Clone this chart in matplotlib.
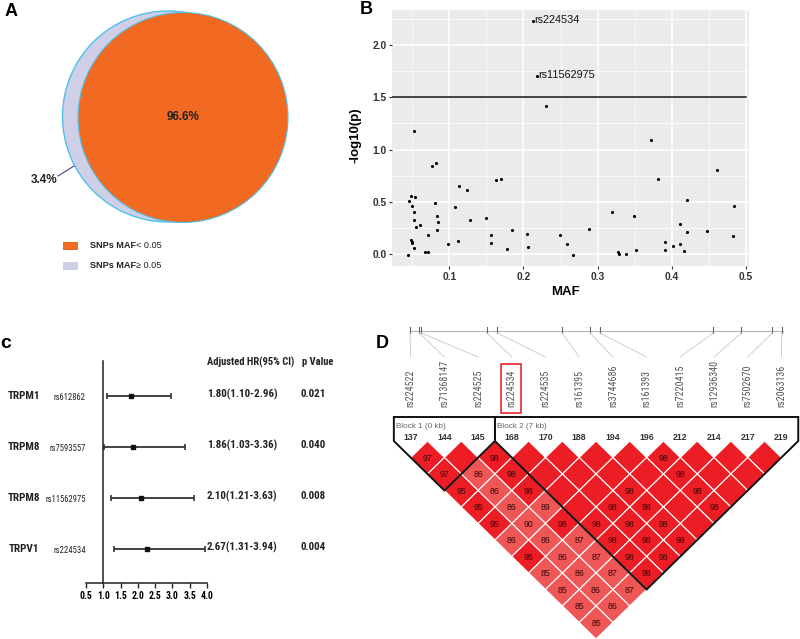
import os
import matplotlib
matplotlib.use('Agg')
import matplotlib.pyplot as plt
from matplotlib import font_manager
from matplotlib.font_manager import FontProperties
from matplotlib.patches import Circle, Rectangle
from matplotlib.collections import PolyCollection
import matplotlib.transforms as mtransforms

plt.rcParams['font.family'] = ['Liberation Sans', 'DejaVu Sans']

# ---------------- panel A : share of SNPs by MAF
maf_groups = ['< 0.05', '\u2265 0.05']
group_share = [96.6, 3.4]
group_colors = ['#f26a21', '#cfd0e8']

# ---------------- panel B : -log10(p) vs MAF
maf = [0.2133, 0.2187, 0.2303, 0.0528, 0.0766, 0.0816, 0.3724, 0.3809, 0.4610, 0.1630,
       0.1700, 0.1126, 0.1234, 0.0488, 0.0537, 0.0461, 0.0492, 0.0802, 0.1076, 0.0519,
       0.3193, 0.4204, 0.4834, 0.0834, 0.3485, 0.1499, 0.0528, 0.1283, 0.0852, 0.4115,
       0.0609, 0.0551, 0.2883, 0.0838, 0.1840, 0.4474, 0.4204, 0.0708, 0.1562, 0.2047,
       0.2497, 0.4829, 0.1117, 0.0488, 0.0492, 0.0497, 0.1562, 0.3908, 0.0987, 0.2587,
       0.4011, 0.4115, 0.0519, 0.2065, 0.1782, 0.3521, 0.3912, 0.4169, 0.0672, 0.0712,
       0.3279, 0.3283, 0.3378, 0.2672, 0.0447]
logp = [2.229, 1.700, 1.417, 1.178, 0.844, 0.876, 1.092, 0.723, 0.803, 0.707,
        0.723, 0.653, 0.611, 0.557, 0.548, 0.513, 0.465, 0.494, 0.455, 0.404,
        0.401, 0.516, 0.465, 0.369, 0.369, 0.347, 0.331, 0.325, 0.306, 0.287,
        0.283, 0.264, 0.239, 0.229, 0.229, 0.220, 0.213, 0.188, 0.188, 0.191,
        0.182, 0.178, 0.127, 0.137, 0.121, 0.111, 0.111, 0.115, 0.096, 0.096,
        0.083, 0.102, 0.061, 0.067, 0.051, 0.041, 0.041, 0.035, 0.019, 0.022,
        0.019, 0.006, 0.000, -0.003, -0.003]
hit_names = ['rs224534', 'rs11562975']   # first two points
threshold = 1.5

# ---------------- panel C : forest plot
genes = ['TRPM1', 'TRPM8', 'TRPM8', 'TRPV1']
snps = ['rs612862', 'rs7593557', 'rs11562975', 'rs224534']
hr_point = [1.80, 1.86, 2.10, 2.27]
ci_low = [1.10, 1.03, 1.21, 1.31]
ci_high = [2.96, 3.36, 3.63, 3.94]
hr_text = ['1.80(1.10-2.96)', '1.86(1.03-3.36)', '2.10(1.21-3.63)', '2.67(1.31-3.94)']
p_text = ['0.021', '0.040', '0.008', '0.004']

# ---------------- panel D : LD plot
ld_snps = ['rs224522', 'rs71368147', 'rs224525', 'rs224534', 'rs224535', 'rs161395',
           'rs3744686', 'rs161393', 'rs7220415', 'rs12936340', 'rs7502670', 'rs2063136']
ld_ids = [137, 144, 145, 168, 170, 188, 194, 196, 212, 214, 217, 219]
map_frac = [0.0, 0.025, 0.030, 0.206, 0.234, 0.408, 0.483, 0.509, 0.813, 0.888, 0.971, 0.997]
blocks = [(0, 2, 'Block 1 (0 kb)'), (3, 11, 'Block 2 (7 kb)')]
highlight = 'rs224534'
# D' (x100) by marker distance 1..11, 100 = not printed
ld_dprime = [
    [97, 100, 98, 100, 100, 100, 100, 98, 100, 100, 100],
    [97, 86, 98, 100, 100, 100, 100, 98, 100, 100],
    [95, 86, 98, 100, 100, 98, 100, 98, 100],
    [95, 86, 89, 100, 98, 98, 100, 98],
    [95, 90, 98, 98, 98, 98, 100],
    [86, 86, 87, 98, 98, 98],
    [95, 86, 87, 98, 98],
    [85, 86, 87, 98],
    [85, 86, 87],
    [85, 86],
    [85],
]

W, H = 800, 639
fig = plt.figure(figsize=(W / 100, H / 100), dpi=100)


# a narrow face for the forest plot / haploview text, if one is installed
def _find_face(cands):
    files = {}
    for f in font_manager.fontManager.ttflist:
        base = os.path.splitext(os.path.basename(f.fname))[0].lower()
        base = base.replace('-', '').replace('_', '').replace(' ', '')
        files.setdefault(base, f.fname)
    for c in cands:
        if c in files:
            return files[c]
    return None


_narrow_reg = _find_face(['liberationsansnarrowregular', 'arialnarrow', 'robotocondensedregular',
                          'notosanscondensedregular', 'notosanscondensed',
                          'opensanscondensedregular', 'dejavusanscondensed'])
_narrow_bold = _find_face(['liberationsansnarrowbold', 'arialnarrowbold', 'robotocondensedbold',
                           'notosanscondensedbold', 'opensanscondensedbold',
                           'dejavusanscondensedbold'])


def narrow(size, bold=False):
    path = _narrow_bold if bold else _narrow_reg
    if path:
        return dict(fontproperties=FontProperties(fname=path, size=size))
    return dict(family='Liberation Sans', size=size * 0.88,
                weight='bold' if bold else 'normal')


def px_axes(x0, y0, x1, y1):
    return fig.add_axes([x0 / W, 1 - y1 / H, (x1 - x0) / W, (y1 - y0) / H])


def ftext(x, y, s, **kw):
    fig.text(x / W, 1 - y / H, s, **kw)


# ================= A
axA = px_axes(0, 0, 300, 290)
axA.set_xlim(0, 300)
axA.set_ylim(290, 0)
axA.axis('off')
axA.add_patch(Circle((168, 116.5), 105.5, fc=group_colors[1], ec='#4fc1e9', lw=1.0))
axA.add_patch(Circle((183, 117.5), 105, fc=group_colors[0], ec='#4fc1e9', lw=0.8))
axA.text(183, 117, '%.1f%%' % group_share[0], ha='center', va='center',
         fontsize=8.5, fontweight='bold', color='#222')
axA.text(44, 180, '%.1f%%' % group_share[1], ha='center', va='center',
         fontsize=8.5, fontweight='bold', color='#222')
axA.plot([58, 74], [176, 166], color='#4b3f8c', lw=0.8)
for k, (cond, col) in enumerate(zip(maf_groups, group_colors)):
    yy = 246 + 20 * k
    axA.add_patch(Rectangle((63, yy - 4), 15, 8, fc=col, ec='none'))
    t = axA.text(90, yy, 'SNPs MAF', ha='left', va='center', fontsize=6.6,
                 fontweight='bold', color='#222')
    axA.annotate(cond, xy=(1, 0.5), xycoords=t, ha='left', va='center',
                 fontsize=6.6, color='#222')
ftext(5, 11, 'A', fontsize=13, fontweight='bold', va='center', ha='left')

# ================= B
axB = px_axes(392, 10, 749, 266)
axB.set_facecolor('#ebebeb')
axB.set_axisbelow(True)
for s in axB.spines.values():
    s.set_visible(False)
axB.set_xlim(0.0228, 0.504)
axB.set_ylim(-0.112, 2.334)
xt = [0.1, 0.2, 0.3, 0.4, 0.5]
yt = [0.0, 0.5, 1.0, 1.5, 2.0]
axB.set_xticks(xt)
axB.set_xticklabels(['%.1f' % v for v in xt], fontweight='bold')
axB.set_yticks(yt)
axB.set_yticklabels(['%.1f' % v for v in yt], fontweight='bold')
axB.set_xticks([0.05, 0.15, 0.25, 0.35, 0.45], minor=True)
axB.set_yticks([0.25, 0.75, 1.25, 1.75, 2.25], minor=True)
axB.grid(which='major', color='white', lw=1.1)
axB.grid(which='minor', color='white', lw=0.5)
axB.tick_params(which='minor', length=0)
axB.tick_params(which='major', length=2.5, width=0.8, color='#333',
                labelsize=7.4, labelcolor='#333', pad=1.5)
axB.scatter(maf, logp, s=5, color='black', linewidths=0, zorder=3)
axB.plot([axB.get_xlim()[0], 0.5], [threshold, threshold], color='#111', lw=1.1, zorder=2)
for k, name in enumerate(hit_names):
    axB.text(maf[k] + 0.0008, logp[k] + 0.012, name, ha='left', va='center',
             fontsize=7.8, color='#111')
axB.set_xlabel('MAF', fontsize=9.5, fontweight='bold')
axB.set_ylabel('-log10(p)', fontsize=9.5, fontweight='bold')
axB.xaxis.set_label_coords(0.487, -0.078)
axB.yaxis.set_label_coords(-0.085, 0.51)
ftext(366, 9, 'B', fontsize=13, fontweight='bold', va='center', ha='center')

# ================= C
axC = px_axes(86, 361, 207, 583)
rows = list(range(len(genes)))
axC.set_xlim(0.5, 4.0)
axC.set_ylim(3.667, -0.686)
for s in ('top', 'right'):
    axC.spines[s].set_visible(False)
axC.spines['left'].set_position(('data', 1.0))
for s in ('left', 'bottom'):
    axC.spines[s].set_color('#222')
    axC.spines[s].set_linewidth(1.1)
axC.set_yticks([])
ct = [0.5, 1.0, 1.5, 2.0, 2.5, 3.0, 3.5, 4.0]
axC.set_xticks(ct)
axC.set_xticklabels(['%.1f' % v for v in ct])
for lab in axC.get_xticklabels():
    lab.update(narrow(7, bold=True))
axC.tick_params(axis='x', length=3.5, width=1.0, color='#222', pad=2)
err = [[h - l for h, l in zip(hr_point, ci_low)], [u - h for h, u in zip(hr_point, ci_high)]]
axC.errorbar(hr_point, rows, xerr=err, fmt='s', ms=3.5, color='#111', ecolor='#333',
             elinewidth=1.3, capsize=2.5, capthick=1.2)
trC = mtransforms.blended_transform_factory(fig.transFigure, axC.transData)
for r in rows:
    fig.text(24 / W, r, genes[r], transform=trC, ha='center', va='center',
             color='#222', **narrow(8, bold=True))
    fig.text(86 / W, r + 0.03, snps[r], transform=trC, ha='right', va='center',
             color='#222', **narrow(6.2))
    fig.text(242 / W, r - 0.03, hr_text[r], transform=trC, ha='center', va='center',
             color='#222', **narrow(7.9, bold=True))
    fig.text(313 / W, r - 0.03, p_text[r], transform=trC, ha='center', va='center',
             color='#222', **narrow(7.9, bold=True))
ftext(251, 362, 'Adjusted HR(95% CI)', ha='center', va='center', color='#222',
      **narrow(7.6, bold=True))
ftext(318, 362, 'p Value', ha='center', va='center', color='#222',
      **narrow(7.6, bold=True))
ftext(0, 343, 'c', fontsize=14, fontweight='bold', va='center', ha='left')

# ================= D
X0, DX, Y0, DY = 410.7, 33.7, 441.0, 16.5
ax0, ay0, ax1, ay1 = 386, 300, 800, 639
axD = px_axes(ax0, ay0, ax1, ay1)
axD.set_xlim((ax0 - X0) / DX, (ax1 - X0) / DX)
axD.set_ylim((ay1 - Y0) / DY, (ay0 - Y0) / DY)
axD.axis('off')


def ry(py):
    return (py - Y0) / DY


def rx(px):
    return (px - X0) / DX


n = len(ld_snps)
# physical map track
trk0, trk1 = rx(410), rx(783)
axD.plot([trk0, trk1], [ry(330.5), ry(330.5)], color='#b5b5b5', lw=0.8)
for i, f in enumerate(map_frac):
    mx = trk0 + f * (trk1 - trk0)
    axD.plot([mx, mx], [ry(326.5), ry(333)], color='#666', lw=0.8)
    axD.plot([mx, i], [ry(333), ry(357)], color='#c8c8c8', lw=0.6)
    axD.text(i, ry(407), ld_snps[i], rotation=90, ha='center', va='bottom',
             color='#555', **narrow(7.2))
    axD.text(i, ry(438), str(ld_ids[i]), ha='center', va='center',
             fontsize=6.3, fontweight='bold', color='#333')
hi = ld_snps.index(highlight)
axD.add_patch(Rectangle((hi - 0.32, ry(413)), 0.6, ry(364) - ry(413),
                        fc='none', ec='#e8262b', lw=1.2))

# LD diamonds
polys, cols = [], []
for k, row in enumerate(ld_dprime, start=1):
    for i, v in enumerate(row):
        cx = i + k / 2
        polys.append([(cx - 0.5, k), (cx, k - 1), (cx + 0.5, k), (cx, k + 1)])
        cols.append('#ec1d25' if v >= 95 else '#ef5656')
        if v < 100:
            axD.text(cx, k + 0.05, str(v), ha='center', va='center', fontsize=6.3,
                     color='#3a0808', zorder=4)
axD.add_collection(PolyCollection(polys, facecolors=cols, edgecolors='white',
                                  linewidths=0.8, zorder=2))

# block outlines
top = ry(417)
axD.plot([-0.5, n - 0.5], [top, top], color='#111', lw=1.4, zorder=5)
for s, e, lab in blocks:
    bx = [s - 0.5, s - 0.5, (s + e) / 2, e + 0.5, e + 0.5]
    by = [top, 0, e - s + 1, 0, top]
    axD.plot(bx, by, color='#111', lw=1.4, zorder=5, solid_joinstyle='miter')
    axD.text(s - 0.45, ry(427), lab, ha='left', va='center', fontsize=5.9, color='#666')
ftext(382, 344, 'D', fontsize=13, fontweight='bold', va='center', ha='center')

fig.savefig('out.png', dpi=100)
